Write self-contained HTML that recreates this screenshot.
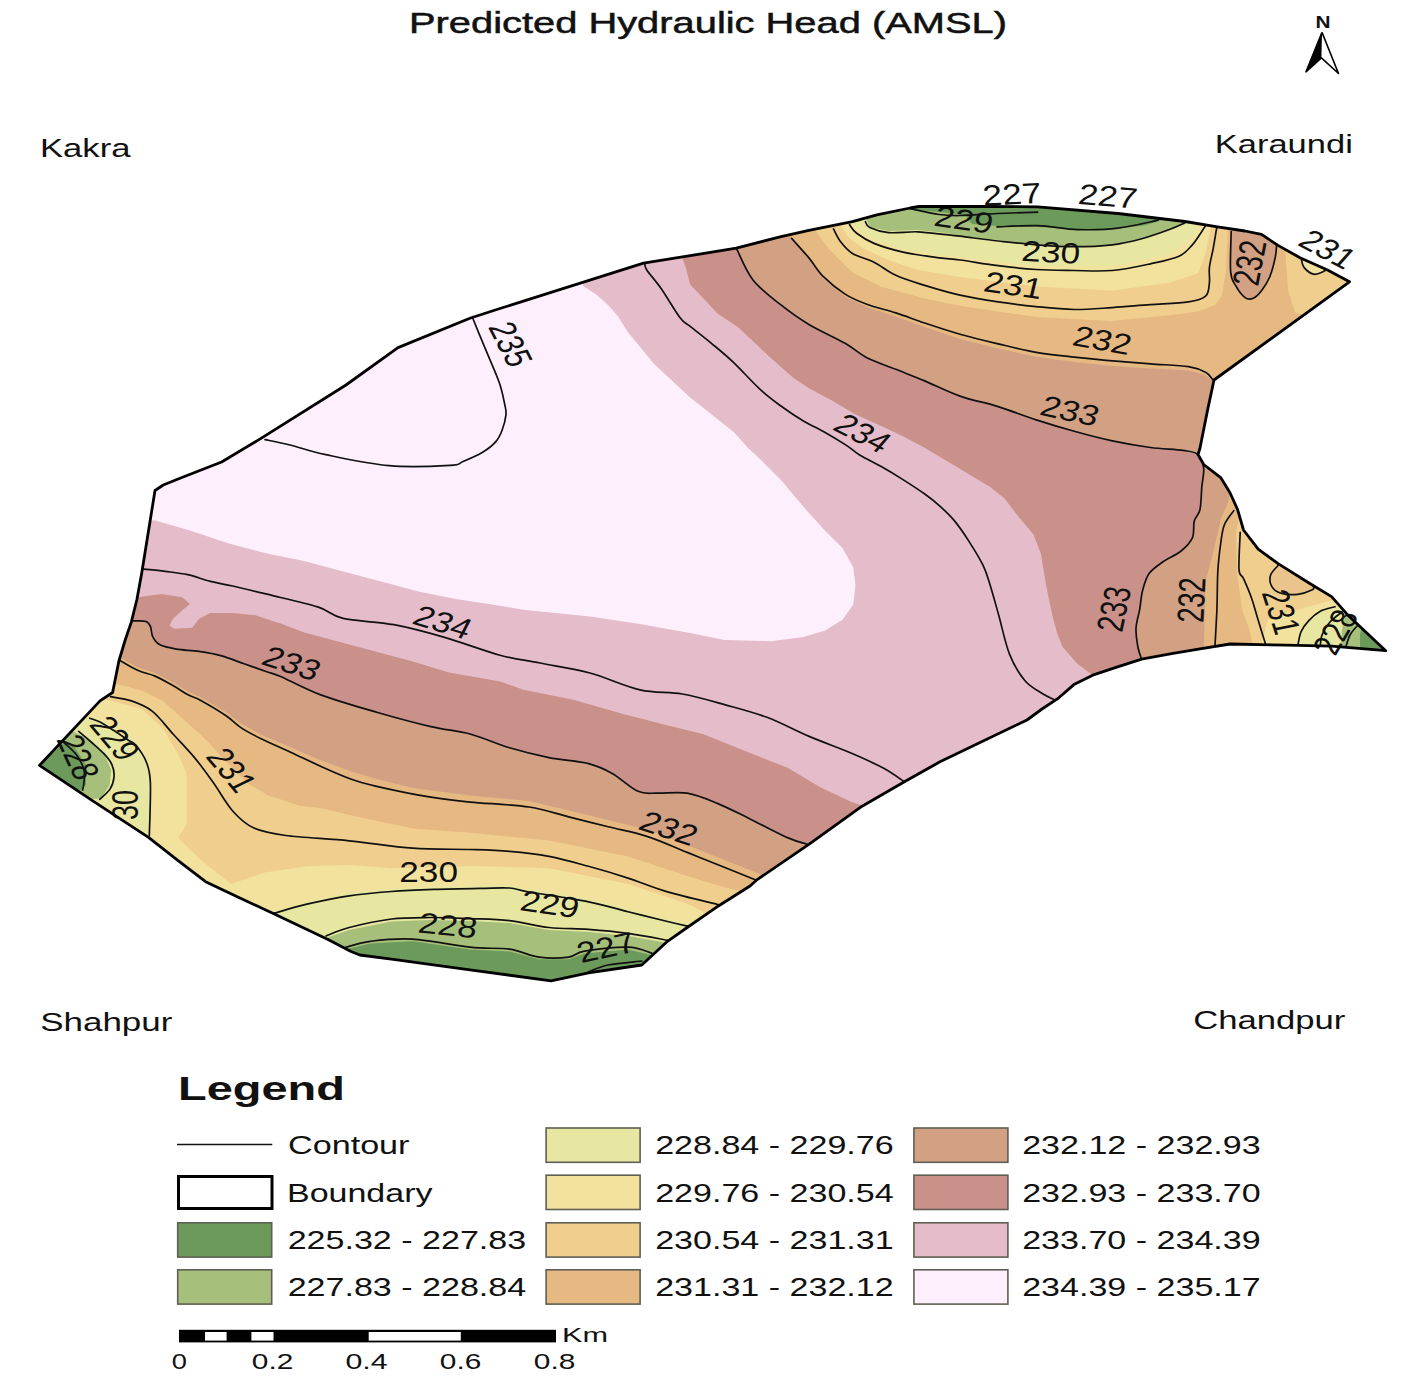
<!DOCTYPE html>
<html><head><meta charset="utf-8"><style>
html,body{margin:0;padding:0;background:#fff;}
body{width:1418px;height:1382px;overflow:hidden;}
svg{display:block;}
text{font-family:"Liberation Sans",sans-serif;}
</style></head><body>
<svg width="1418" height="1382" viewBox="0 0 1418 1382">
<defs><clipPath id="cb"><polygon points="39.5,765.4 100.0,700.9 112.6,692.5 118.9,661.0 125.2,640.0 131.3,622.1 136.9,599.5 141.7,573.3 155.0,490.5 163.3,485.0 180.6,478.0 221.6,462.0 259.0,439.6 346.0,385.0 398.0,347.6 470.5,318.0 500.0,308.5 643.5,263.2 736.3,248.2 780.0,236.9 808.9,230.4 852.4,221.7 876.8,214.8 910.2,208.0 918.9,206.5 980.0,206.5 1037.6,206.8 1118.0,213.5 1185.0,221.5 1217.5,226.8 1245.0,231.0 1261.5,234.4 1278.0,245.4 1300.0,257.7 1327.5,270.0 1349.5,281.8 1214.0,380.0 1207.5,410.4 1199.9,448.5 1198.0,454.5 1203.7,464.5 1220.7,477.6 1230.0,492.7 1237.6,509.6 1243.5,530.0 1258.2,549.2 1278.5,563.9 1309.0,583.0 1331.6,596.6 1348.5,615.8 1385.7,650.7 1331.6,646.2 1286.4,645.1 1230.0,644.0 1200.0,648.9 1171.7,653.6 1141.6,659.2 1115.3,667.7 1092.7,675.2 1073.9,684.6 1058.8,697.8 1042.0,709.0 1027.0,720.0 940.0,761.7 904.4,781.8 862.1,806.2 809.2,844.2 756.4,880.2 750.0,886.0 718.8,905.7 687.2,927.5 667.5,941.3 641.8,965.0 588.5,972.9 551.0,980.8 470.0,969.9 391.5,959.2 359.8,955.0 351.0,951.5 328.0,939.5 273.3,913.5 241.5,898.7 205.6,881.7 178.1,860.6 148.5,837.3 93.5,801.3"/></clipPath></defs>
<rect width="1418" height="1382" fill="#fff"/>
<g clip-path="url(#cb)">

<polygon points="0.0,150.0 1418.0,150.0 1418.0,1000.0 0.0,1000.0" fill="#D2A083"/>
<polygon points="736.3,248.2 753.0,280.0 780.0,304.2 808.9,324.5 845.1,343.3 866.8,357.7 895.8,369.3 924.7,380.9 960.0,396.1 998.1,406.6 1036.2,419.9 1074.2,431.3 1112.3,440.9 1150.4,447.5 1183.0,450.4 1198.0,454.5 1203.7,468.2 1201.8,487.0 1200.0,509.6 1194.3,520.9 1192.4,537.9 1181.1,551.0 1162.3,562.3 1149.1,573.6 1142.6,590.5 1139.7,609.4 1136.0,628.2 1137.9,647.0 1141.6,659.2 1160.0,700.0 1000.0,780.0 850.0,870.0 820.0,870.0 807.1,844.2 788.1,837.9 750.0,818.9 716.8,803.1 687.2,793.2 657.6,793.2 637.9,791.2 612.2,773.4 588.5,763.6 549.0,757.6 509.5,747.8 470.0,734.0 430.9,726.6 376.6,712.2 320.0,694.6 280.0,676.2 266.7,671.7 244.1,663.8 221.6,655.9 199.0,651.4 176.4,649.1 159.5,644.6 152.7,636.7 150.5,626.6 146.0,621.5 134.7,620.9 120.0,621.0 100.0,621.0 100.0,480.0 200.0,400.0 700.0,200.0 736.0,200.0" fill="#C9918A"/>
<polygon points="681.0,254.0 685.9,268.0 690.2,284.5 703.0,298.0 717.5,313.5 738.0,327.3 756.0,344.0 769.7,357.1 792.9,377.4 810.2,388.9 832.0,400.5 853.7,413.5 881.7,426.3 903.4,436.4 925.1,448.0 946.8,461.0 968.5,474.1 990.2,487.1 1004.7,498.7 1019.2,517.5 1033.7,534.8 1040.9,553.7 1045.2,580.0 1048.7,598.0 1053.2,618.8 1057.4,634.0 1062.6,647.0 1077.6,663.9 1092.7,675.2 1100.0,720.0 900.0,830.0 864.2,806.2 851.5,801.9 819.8,787.1 788.1,768.1 745.8,751.2 703.5,734.2 661.2,723.7 623.2,714.0 573.2,699.7 523.3,689.7 500.0,681.4 449.0,672.4 412.8,661.5 358.5,647.0 304.3,632.6 280.0,623.2 272.3,620.9 255.4,615.3 232.8,613.0 210.3,613.0 199.0,618.7 192.2,627.7 174.2,628.8 169.6,625.4 173.0,618.7 183.2,609.6 190.0,604.0 182.1,597.2 161.7,593.9 138.0,597.2 120.0,597.0 100.0,597.0 100.0,480.0 200.0,400.0 650.0,220.0 683.0,220.0" fill="#E5BCC9"/>
<polygon points="583.2,285.9 596.2,294.6 607.8,304.7 617.9,316.3 628.0,332.2 641.0,348.1 654.1,364.1 672.9,381.4 690.2,397.4 712.0,414.7 733.7,432.1 748.1,448.0 760.0,459.0 781.7,480.8 803.4,506.8 825.1,530.7 842.5,548.1 853.3,567.6 855.5,585.0 853.3,604.5 842.5,619.7 825.1,630.5 803.4,637.1 771.2,641.2 724.6,640.0 690.0,633.0 656.4,627.0 640.0,624.0 589.9,616.5 523.3,609.8 500.0,605.7 457.3,599.3 419.3,591.7 381.2,581.5 343.1,571.4 305.0,561.2 266.9,553.6 228.9,543.5 190.8,530.8 155.2,520.6 130.0,520.0 100.0,520.0 100.0,480.0 200.0,400.0 560.0,250.0 583.0,250.0" fill="#FDF0FC"/>
<polygon points="789.0,234.0 808.9,259.9 823.4,278.7 845.1,296.6 866.8,307.0 895.8,316.4 924.7,327.0 960.0,339.0 998.1,348.5 1036.2,356.8 1074.2,362.0 1112.3,366.0 1150.4,368.5 1188.5,370.6 1205.6,375.0 1214.0,382.0 1230.0,385.0 1400.0,270.0 1300.0,190.0 790.0,190.0" fill="#E6B882"/>
<polygon points="815.0,230.0 827.8,247.8 852.4,272.4 881.3,286.8 924.7,298.4 960.0,305.7 1036.2,317.1 1112.3,320.9 1169.4,315.2 1198.0,311.4 1215.0,305.0 1222.0,296.0 1226.0,270.0 1228.0,229.0 1228.0,190.0 815.0,190.0" fill="#F0CF8E"/>
<polygon points="1285.0,245.0 1288.0,290.0 1295.0,312.0 1310.0,318.0 1330.0,310.0 1360.0,290.0 1360.0,250.0 1300.0,240.0" fill="#F0CF8E"/>
<polygon points="1231.2,231.6 1230.6,271.5 1235.4,285.2 1245.0,297.6 1253.2,298.3 1261.5,290.7 1269.7,277.0 1275.2,257.7 1276.6,245.4 1278.0,220.0 1231.0,220.0" fill="#D2A083"/>
<polygon points="1301.4,259.0 1304.0,267.4 1313.7,274.2 1323.4,271.5 1330.0,265.0 1300.0,250.0" fill="#F2E29E"/>
<polygon points="838.0,222.0 849.0,238.0 863.0,248.0 888.0,260.0 918.0,270.0 960.0,277.1 1036.2,286.6 1112.3,290.4 1169.4,282.8 1198.0,273.3 1205.0,255.0 1211.0,226.0 1211.0,190.0 838.0,190.0" fill="#F2E29E"/>
<polygon points="852.0,222.0 858.0,230.0 874.0,240.0 903.0,249.0 939.0,255.0 960.0,257.1 1036.2,265.7 1112.3,266.6 1169.4,254.3 1194.2,235.2 1200.0,222.0 1200.0,190.0 852.0,190.0" fill="#E7E7A1"/>
<polygon points="866.0,219.0 870.0,227.0 888.5,231.0 917.5,230.0 946.4,233.0 960.0,236.0 998.1,240.0 1036.2,244.5 1074.2,246.5 1112.3,245.0 1140.9,239.0 1169.4,230.0 1186.0,222.0 1186.0,190.0 866.0,190.0" fill="#A6BF7A"/>
<polygon points="905.0,205.0 911.6,209.5 950.0,213.0 965.0,215.0 972.0,224.0 997.4,226.0 1037.6,227.0 1077.8,229.6 1118.0,228.5 1144.8,225.6 1165.0,219.0 1165.0,190.0 905.0,190.0" fill="#6B9A5B"/>
<polygon points="1230.0,490.0 1228.2,502.1 1220.7,519.0 1213.1,552.9 1205.6,581.1 1203.7,650.0 1203.7,700.0 1420.0,700.0 1420.0,480.0 1240.0,470.0" fill="#E6B882"/>
<polygon points="1241.0,505.0 1236.0,534.1 1237.0,571.7 1242.0,609.4 1249.0,628.2 1254.0,650.0 1252.6,700.0 1420.0,700.0 1420.0,480.0 1245.0,480.0" fill="#F0CF8E"/>
<polygon points="1278.5,565.0 1270.6,575.1 1271.7,586.4 1280.8,593.2 1297.7,594.3 1312.4,589.8 1313.5,586.4 1300.0,570.0" fill="#EAC48A"/>
<polygon points="1262.0,640.0 1268.0,620.0 1290.0,612.0 1318.0,604.0 1340.0,598.0 1400.0,600.0 1400.0,700.0 1262.0,700.0" fill="#F2E29E"/>
<polygon points="1297.7,650.0 1301.1,631.6 1309.0,620.3 1320.3,611.2 1335.0,606.7 1400.0,600.0 1400.0,700.0 1297.0,700.0" fill="#E7E7A1"/>
<polygon points="1340.0,650.0 1342.0,630.0 1345.0,615.0 1400.0,620.0 1400.0,700.0" fill="#A6BF7A"/>
<polygon points="1360.0,650.0 1360.0,635.0 1362.0,625.0 1400.0,640.0 1400.0,700.0" fill="#6B9A5B"/>
<polygon points="100.0,657.0 121.0,658.0 138.0,667.5 155.0,673.0 172.0,682.0 189.0,692.0 200.0,697.0 225.7,712.0 241.0,723.5 261.0,734.5 290.0,747.0 320.0,760.0 350.0,771.0 376.6,779.0 412.8,788.0 470.0,795.5 529.0,801.0 569.0,810.5 608.0,820.0 648.0,830.0 687.0,845.0 727.0,861.0 760.0,874.0 780.0,1000.0 0.0,1000.0 0.0,657.0" fill="#E6B882"/>
<polygon points="100.0,684.0 116.8,684.1 142.0,690.4 163.0,700.9 184.0,719.8 205.0,738.7 226.0,761.7 246.9,782.7 267.9,795.3 299.4,805.8 320.0,807.9 358.5,817.0 412.8,828.5 470.0,832.7 549.0,840.6 628.0,856.4 687.2,876.1 726.7,888.0 760.0,895.0 780.0,1000.0 0.0,1000.0 0.0,684.0" fill="#F0CF8E"/>
<polygon points="90.0,697.0 112.6,700.9 142.0,709.3 163.0,728.2 179.8,757.6 186.5,773.8 186.5,824.6 178.0,838.0 199.2,858.5 231.0,883.9 264.6,872.5 306.9,866.2 349.2,865.1 391.5,868.3 470.0,866.0 549.0,868.2 628.0,884.0 687.2,903.8 720.0,920.0 740.0,1000.0 0.0,1000.0 0.0,697.0" fill="#F2E29E"/>
<polygon points="84.2,717.0 97.7,718.8 113.0,727.0 135.7,742.0 146.2,759.0 149.5,780.0 149.5,840.0 60.0,840.0 30.0,770.0" fill="#E7E7A1"/>
<polygon points="260.0,918.0 275.2,911.0 306.9,901.5 349.2,893.0 391.5,888.8 433.9,886.7 480.0,885.7 509.5,885.5 529.2,889.5 588.5,899.0 628.0,909.0 667.5,919.0 689.2,924.0 720.0,940.0 700.0,1000.0 260.0,1000.0" fill="#E7E7A1"/>
<polygon points="72.3,731.0 89.2,739.4 104.5,754.6 111.2,769.9 109.6,785.1 101.1,798.6 60.0,800.0 30.0,770.0" fill="#A6BF7A"/>
<polygon points="320.0,945.0 326.0,938.0 349.2,930.0 391.5,921.5 430.0,920.0 470.0,921.0 509.5,923.0 549.0,930.0 588.5,932.0 628.0,936.0 667.5,943.0 680.0,960.0 320.0,1000.0" fill="#A6BF7A"/>
<polygon points="39.5,765.4 63.9,742.8 74.0,746.2 85.9,764.8 85.9,785.0 80.8,790.2 40.0,800.0 20.0,770.0" fill="#6B9A5B"/>
<polygon points="340.0,950.0 345.0,949.6 370.4,943.5 412.7,941.3 470.0,949.5 509.5,951.4 539.1,959.3 568.7,959.3 584.5,953.4 628.0,949.5 651.7,955.3 670.0,960.0 600.0,1000.0 340.0,1000.0" fill="#6B9A5B"/>
<g fill="none" stroke="#111" stroke-width="1.7" stroke-linejoin="round" stroke-linecap="round">
<path d="M265.0,439.6 C269.2,440.5 279.9,442.5 290.0,445.0 C300.1,447.5 309.2,451.2 325.8,454.7 C342.4,458.1 368.7,463.9 389.4,465.7 C410.1,467.5 437.7,466.1 450.0,465.4 C462.3,464.7 457.6,463.7 463.0,461.5 C468.4,459.3 477.2,455.6 482.6,452.3 C488.0,449.0 492.4,445.6 495.6,441.9 C498.9,438.2 500.4,434.8 502.1,430.2 C503.8,425.6 505.6,418.9 506.0,414.6 C506.4,410.3 505.8,409.4 504.7,404.2 C503.6,399.0 502.3,391.6 499.5,383.3 C496.7,375.1 491.3,363.1 487.8,354.7 C484.3,346.2 481.1,338.7 478.6,332.6 C476.1,326.5 473.8,320.6 472.8,318.2"/>
<path d="M644.8,263.2 C645.1,264.3 644.0,265.7 646.8,270.0 C649.5,274.3 655.8,280.8 661.3,288.8 C666.8,296.8 675.3,311.5 680.1,317.8 C684.9,324.1 684.9,322.1 690.2,326.4 C695.5,330.7 704.8,337.8 712.0,343.8 C719.2,349.8 725.8,355.1 733.7,362.6 C741.6,370.1 751.7,381.6 759.6,388.9 C767.5,396.2 774.1,401.0 781.3,406.3 C788.5,411.6 795.8,416.5 803.0,420.8 C810.2,425.1 817.5,428.2 824.7,432.3 C831.9,436.4 840.5,441.6 846.4,445.4 C852.3,449.2 854.1,451.7 860.0,455.3 C865.9,458.9 874.5,462.7 881.7,466.8 C888.9,470.9 896.2,475.3 903.4,479.9 C910.6,484.5 919.1,490.0 925.1,494.3 C931.1,498.6 934.8,501.5 939.6,505.9 C944.4,510.2 949.3,514.6 954.1,520.4 C958.9,526.2 963.7,533.1 968.5,540.6 C973.3,548.1 979.4,557.8 983.0,565.2 C986.6,572.6 987.5,576.6 990.1,585.0 C992.7,593.4 995.5,603.8 998.8,615.4 C1002.0,627.0 1005.3,643.5 1009.6,654.4 C1013.9,665.2 1019.4,674.0 1024.8,680.5 C1030.2,687.0 1037.1,690.2 1042.2,693.5 C1047.3,696.8 1053.0,698.9 1055.2,700.0"/>
<path d="M142.5,568.9 C146.3,569.3 157.6,570.3 165.1,571.3 C172.6,572.3 180.2,573.0 187.7,574.7 C195.2,576.4 202.8,579.5 210.3,581.4 C217.8,583.3 223.4,583.9 232.8,586.0 C242.2,588.1 252.7,590.7 266.9,594.2 C281.0,597.7 305.0,602.9 317.7,606.9 C330.4,610.9 330.4,615.4 343.1,618.4 C355.8,621.4 377.0,621.5 393.9,624.7 C410.8,627.9 426.9,632.3 444.6,637.4 C462.3,642.5 484.1,650.9 500.0,655.2 C515.9,659.5 525.0,660.0 540.0,663.0 C555.0,666.0 573.2,668.5 589.9,673.0 C606.6,677.5 624.6,686.3 640.0,689.8 C655.4,693.3 668.2,691.5 682.3,694.0 C696.4,696.5 710.5,700.7 724.6,704.6 C738.7,708.5 752.8,712.0 766.9,717.3 C781.0,722.6 795.1,730.4 809.2,736.4 C823.3,742.4 839.1,748.0 851.5,753.3 C863.9,758.6 874.5,763.4 883.3,768.1 C892.1,772.9 900.9,779.5 904.4,781.8"/>
<path d="M736.3,248.2 C739.1,253.5 745.7,270.7 753.0,280.0 C760.3,289.3 770.7,296.8 780.0,304.2 C789.3,311.6 798.0,318.0 808.9,324.5 C819.8,331.0 835.5,337.8 845.1,343.3 C854.8,348.8 858.3,353.4 866.8,357.7 C875.2,362.0 886.1,365.4 895.8,369.3 C905.4,373.2 914.0,376.4 924.7,380.9 C935.4,385.4 947.8,391.8 960.0,396.1 C972.2,400.4 985.4,402.6 998.1,406.6 C1010.8,410.6 1023.5,415.8 1036.2,419.9 C1048.9,424.0 1061.5,427.8 1074.2,431.3 C1086.9,434.8 1099.6,438.2 1112.3,440.9 C1125.0,443.6 1138.6,445.9 1150.4,447.5 C1162.2,449.1 1175.1,449.2 1183.0,450.4 C1190.9,451.6 1194.5,451.5 1198.0,454.5 C1201.5,457.5 1203.1,462.8 1203.7,468.2 C1204.3,473.6 1202.4,480.1 1201.8,487.0 C1201.2,493.9 1201.2,504.0 1200.0,509.6 C1198.8,515.2 1195.6,516.2 1194.3,520.9 C1193.0,525.6 1194.6,532.9 1192.4,537.9 C1190.2,542.9 1186.1,546.9 1181.1,551.0 C1176.1,555.1 1167.6,558.5 1162.3,562.3 C1157.0,566.1 1152.4,568.9 1149.1,573.6 C1145.8,578.3 1144.2,584.5 1142.6,590.5 C1141.0,596.5 1140.8,603.1 1139.7,609.4 C1138.6,615.7 1136.3,621.9 1136.0,628.2 C1135.7,634.5 1137.0,641.8 1137.9,647.0 C1138.8,652.2 1141.0,657.2 1141.6,659.2"/>
<path d="M131.0,620.9 C131.6,620.9 132.2,620.8 134.7,620.9 C137.2,621.0 143.4,620.5 146.0,621.5 C148.6,622.5 149.4,624.1 150.5,626.6 C151.6,629.1 151.2,633.7 152.7,636.7 C154.2,639.7 155.6,642.5 159.5,644.6 C163.4,646.7 169.8,648.0 176.4,649.1 C183.0,650.2 191.5,650.3 199.0,651.4 C206.5,652.5 214.1,653.8 221.6,655.9 C229.1,658.0 236.6,661.2 244.1,663.8 C251.6,666.4 260.7,669.6 266.7,671.7 C272.7,673.8 271.1,672.4 280.0,676.2 C288.9,680.0 303.9,688.6 320.0,694.6 C336.1,700.6 358.1,706.9 376.6,712.2 C395.1,717.5 415.3,723.0 430.9,726.6 C446.5,730.2 456.9,730.5 470.0,734.0 C483.1,737.5 496.3,743.9 509.5,747.8 C522.7,751.7 535.8,755.0 549.0,757.6 C562.2,760.2 578.0,761.0 588.5,763.6 C599.0,766.2 604.0,768.8 612.2,773.4 C620.4,778.0 630.3,787.9 637.9,791.2 C645.5,794.5 649.4,792.9 657.6,793.2 C665.8,793.5 677.3,791.6 687.2,793.2 C697.1,794.9 706.3,798.8 716.8,803.1 C727.3,807.4 738.1,813.1 750.0,818.9 C761.9,824.7 778.6,833.7 788.1,837.9 C797.6,842.1 803.9,843.2 807.1,844.2"/>
<path d="M791.6,238.4 C794.5,241.7 803.6,251.5 808.9,257.9 C814.2,264.3 817.4,270.7 823.4,276.7 C829.4,282.7 837.9,289.5 845.1,294.1 C852.3,298.7 858.3,301.1 866.8,304.2 C875.2,307.3 886.1,309.8 895.8,312.9 C905.4,316.0 914.0,319.4 924.7,323.0 C935.4,326.6 947.8,330.7 960.0,334.2 C972.2,337.7 985.4,340.8 998.1,343.8 C1010.8,346.8 1023.5,350.1 1036.2,352.3 C1048.9,354.5 1061.5,355.7 1074.2,357.1 C1086.9,358.5 1099.6,359.8 1112.3,360.9 C1125.0,362.0 1137.7,362.9 1150.4,363.8 C1163.1,364.8 1179.3,365.2 1188.5,366.6 C1197.7,368.0 1201.5,370.1 1205.6,372.3 C1209.7,374.5 1211.9,378.7 1213.2,380.0"/>
<path d="M1231.2,231.6 C1231.1,238.2 1229.9,262.6 1230.6,271.5 C1231.3,280.4 1233.0,280.8 1235.4,285.2 C1237.8,289.6 1242.0,295.4 1245.0,297.6 C1248.0,299.8 1250.5,299.5 1253.2,298.3 C1256.0,297.1 1258.8,294.2 1261.5,290.7 C1264.2,287.1 1267.4,282.5 1269.7,277.0 C1272.0,271.5 1274.1,263.0 1275.2,257.7 C1276.3,252.4 1276.4,247.4 1276.6,245.4"/>
<path d="M120.0,660.4 C123.0,662.1 132.3,667.9 138.2,670.5 C144.0,673.1 149.4,673.7 155.1,676.1 C160.8,678.5 166.4,681.9 172.1,685.1 C177.8,688.3 184.3,692.8 189.0,695.3 C193.7,697.8 194.3,696.9 200.4,700.3 C206.5,703.7 218.9,711.0 225.7,715.5 C232.4,720.0 235.0,723.7 240.9,727.6 C246.8,731.5 253.0,734.7 261.2,738.8 C269.4,742.9 280.2,747.5 290.0,752.0 C299.8,756.5 310.0,761.5 320.0,766.0 C330.0,770.5 340.6,775.3 350.0,778.7 C359.4,782.1 363.1,783.2 376.6,786.3 C390.1,789.4 415.3,794.6 430.9,797.2 C446.5,799.8 453.6,800.5 470.0,802.1 C486.4,803.7 512.8,804.5 529.2,807.0 C545.7,809.5 555.5,813.6 568.7,816.9 C581.9,820.2 595.0,823.5 608.2,826.8 C621.4,830.1 634.5,832.3 647.7,836.6 C660.9,840.9 674.0,847.1 687.2,852.4 C700.4,857.7 715.2,863.6 726.7,868.2 C738.2,872.8 751.5,878.2 756.4,880.2"/>
<path d="M1233.8,510.6 C1232.2,513.0 1226.6,519.2 1224.4,524.7 C1222.2,530.2 1221.8,535.7 1220.7,543.5 C1219.6,551.3 1218.4,560.7 1217.8,571.7 C1217.2,582.7 1217.4,597.0 1216.9,609.4 C1216.4,621.8 1215.3,639.9 1215.0,646.0"/>
<path d="M833.5,228.9 C834.7,231.1 837.6,237.9 840.8,242.0 C843.9,246.1 846.9,250.1 852.4,253.5 C857.9,256.9 866.8,258.6 874.0,262.2 C881.2,265.8 887.3,271.4 895.8,275.3 C904.2,279.2 914.0,282.1 924.7,285.4 C935.4,288.7 947.8,292.4 960.0,295.2 C972.2,297.9 985.4,300.0 998.1,301.9 C1010.8,303.8 1023.5,305.3 1036.2,306.6 C1048.9,307.9 1061.5,309.3 1074.2,309.5 C1086.9,309.7 1099.6,308.4 1112.3,307.6 C1125.0,306.8 1137.7,305.6 1150.4,304.7 C1163.1,303.8 1179.3,303.3 1188.5,301.9 C1197.7,300.5 1202.1,299.4 1205.6,296.2 C1209.1,293.0 1208.8,287.6 1209.4,282.8 C1210.0,278.0 1208.8,273.3 1209.4,267.6 C1210.0,261.9 1212.1,254.6 1213.2,248.6 C1214.3,242.6 1215.5,235.0 1216.1,231.4 C1216.7,227.8 1216.8,227.7 1217.0,227.0"/>
<path d="M1301.4,259.0 C1301.8,260.4 1302.0,264.9 1304.0,267.4 C1306.0,269.9 1310.5,273.5 1313.7,274.2 C1316.9,274.9 1321.2,272.5 1323.4,271.5 C1325.6,270.5 1326.4,268.6 1327.0,268.0"/>
<path d="M110.5,696.7 C114.0,697.4 124.5,698.5 131.5,700.9 C138.5,703.3 145.5,705.8 152.5,711.4 C159.5,717.0 166.5,726.8 173.5,734.5 C180.5,742.2 187.8,749.6 194.5,757.6 C201.2,765.6 207.0,773.8 213.4,782.7 C219.8,791.6 226.1,803.6 232.9,811.2 C239.7,818.8 245.2,824.1 254.0,828.1 C262.8,832.1 269.9,833.4 285.8,835.5 C301.7,837.6 328.1,838.7 349.2,840.8 C370.3,842.9 392.6,846.8 412.7,848.2 C432.8,849.7 453.9,849.0 470.0,849.5 C486.1,850.0 496.3,850.2 509.5,851.4 C522.7,852.5 535.8,853.9 549.0,856.4 C562.2,858.9 575.3,862.7 588.5,866.3 C601.7,869.9 614.8,873.8 628.0,878.1 C641.2,882.4 652.4,887.5 667.5,891.9 C682.6,896.3 710.2,902.6 718.8,904.8"/>
<path d="M1240.2,532.3 C1240.0,538.5 1238.5,561.8 1239.0,569.5 C1239.5,577.2 1241.4,573.8 1243.5,578.5 C1245.6,583.2 1249.0,590.7 1251.4,597.7 C1253.9,604.7 1255.8,612.2 1258.2,620.3 C1260.7,628.3 1264.8,641.7 1266.1,646.0"/>
<path d="M1278.5,565.0 C1277.2,566.7 1271.7,571.5 1270.6,575.1 C1269.5,578.7 1270.0,583.4 1271.7,586.4 C1273.4,589.4 1276.5,591.9 1280.8,593.2 C1285.1,594.5 1292.4,594.9 1297.7,594.3 C1303.0,593.7 1309.8,591.1 1312.4,589.8 C1315.0,588.5 1313.3,587.0 1313.5,586.4"/>
<path d="M849.5,224.6 C850.7,226.1 852.6,230.2 856.7,233.3 C860.8,236.4 866.3,240.3 874.0,243.4 C881.7,246.5 892.1,249.7 903.0,252.1 C913.9,254.5 929.7,256.6 939.2,257.9 C948.7,259.2 950.2,258.7 960.0,260.0 C969.8,261.3 985.4,264.1 998.1,265.7 C1010.8,267.3 1023.5,268.7 1036.2,269.5 C1048.9,270.3 1061.5,270.3 1074.2,270.5 C1086.9,270.7 1099.6,271.6 1112.3,270.5 C1125.0,269.4 1139.3,266.2 1150.4,263.8 C1161.5,261.4 1172.0,259.4 1179.0,256.2 C1186.0,253.0 1188.5,248.9 1192.3,244.8 C1196.1,240.7 1199.6,234.6 1201.8,231.4 C1204.0,228.2 1205.0,226.6 1205.6,225.7"/>
<path d="M1335.0,606.7 C1332.5,607.5 1324.6,608.9 1320.3,611.2 C1316.0,613.5 1312.2,616.9 1309.0,620.3 C1305.8,623.7 1303.0,627.3 1301.1,631.6 C1299.2,635.9 1298.3,643.6 1297.7,646.0"/>
<path d="M865.4,221.7 C866.1,222.7 865.9,225.7 869.7,227.5 C873.6,229.3 880.5,231.9 888.5,232.6 C896.5,233.3 907.9,231.5 917.5,231.8 C927.1,232.2 939.3,234.0 946.4,234.7 C953.5,235.4 951.4,235.1 960.0,236.2 C968.6,237.2 985.4,239.6 998.1,241.0 C1010.8,242.4 1023.5,243.9 1036.2,244.8 C1048.9,245.8 1061.5,246.7 1074.2,246.7 C1086.9,246.7 1101.2,246.1 1112.3,244.8 C1123.4,243.5 1131.4,241.6 1140.9,239.0 C1150.4,236.4 1162.1,232.2 1169.4,229.5 C1176.7,226.8 1182.2,224.0 1184.7,222.9"/>
<path d="M910.2,208.7 C915.0,209.7 930.9,213.4 939.2,214.5 C947.5,215.6 950.3,215.7 960.0,215.5 C969.7,215.3 984.5,214.1 997.4,213.5 C1010.3,212.9 1030.9,212.4 1037.6,212.2"/>
<path d="M997.0,226.9 C1003.8,226.7 1024.1,225.2 1037.6,225.6 C1051.1,226.0 1064.4,229.2 1077.8,229.6 C1091.2,230.0 1104.6,229.8 1118.0,228.2 C1131.4,226.6 1151.5,221.5 1158.2,220.2"/>
<path d="M273.3,913.5 C278.9,912.0 294.2,907.2 306.9,904.2 C319.5,901.2 335.1,897.9 349.2,895.8 C363.3,893.7 377.4,892.6 391.5,891.5 C405.6,890.4 419.1,889.9 433.9,889.4 C448.6,888.9 467.4,888.6 480.0,888.4 C492.6,888.2 501.3,887.4 509.5,888.0 C517.7,888.6 516.0,889.7 529.2,892.0 C542.4,894.3 572.0,898.5 588.5,901.8 C605.0,905.1 614.8,908.4 628.0,911.7 C641.2,915.0 657.3,919.0 667.5,921.5 C677.7,924.0 685.6,925.7 689.2,926.5"/>
<path d="M326.0,936.0 C329.9,934.6 338.3,930.3 349.2,927.5 C360.1,924.7 378.0,920.7 391.5,919.0 C405.0,917.3 416.9,917.6 430.0,917.5 C443.1,917.4 456.8,918.1 470.0,918.6 C483.2,919.1 496.3,919.1 509.5,920.6 C522.7,922.1 535.8,926.0 549.0,927.5 C562.2,929.0 575.3,928.4 588.5,929.4 C601.7,930.4 614.8,931.6 628.0,933.4 C641.2,935.2 660.9,939.1 667.5,940.3"/>
<path d="M345.0,947.6 C349.2,946.5 359.1,942.7 370.4,941.3 C381.7,939.9 396.1,938.1 412.7,939.1 C429.3,940.1 453.9,945.5 470.0,947.2 C486.1,948.9 498.0,947.6 509.5,949.2 C521.0,950.9 529.2,955.8 539.1,957.1 C549.0,958.4 561.1,958.1 568.7,957.1 C576.3,956.1 574.6,952.9 584.5,951.2 C594.4,949.6 616.8,946.9 628.0,947.2 C639.2,947.5 647.8,952.1 651.7,953.1"/>
<path d="M588.5,971.9 C591.8,970.8 599.3,966.8 608.2,965.0 C617.1,963.2 636.2,961.7 641.8,961.0"/>
<path d="M89.7,718.2 C91.4,718.8 96.1,720.0 100.0,722.0 C103.9,724.0 108.3,727.0 113.0,730.0 C117.7,733.0 124.2,737.5 128.0,740.0 C131.8,742.5 132.7,741.4 135.7,745.0 C138.7,748.6 143.8,755.4 146.2,761.7 C148.6,768.0 149.9,770.3 150.4,782.7 C150.9,795.1 149.5,827.1 149.3,836.0"/>
<path d="M78.6,731.4 C80.8,733.2 87.5,738.8 91.7,742.5 C95.9,746.2 100.5,750.0 103.9,753.7 C107.3,757.4 110.3,760.9 112.0,764.8 C113.7,768.7 114.3,773.0 114.0,777.0 C113.7,781.0 112.4,785.4 110.0,789.1 C107.6,792.8 101.5,797.6 99.8,799.3"/>
<path d="M62.0,741.0 C63.3,742.2 67.3,745.3 70.0,748.0 C72.7,750.7 75.7,753.3 78.0,757.0 C80.3,760.7 83.0,765.8 84.0,770.0 C85.0,774.2 84.2,778.6 84.0,782.0 C83.8,785.4 82.8,788.8 82.6,790.2"/>
<path d="M1320.0,650.0 C1320.3,647.5 1320.3,639.7 1322.0,635.0 C1323.7,630.3 1326.7,625.8 1330.0,622.0 C1333.3,618.2 1340.0,613.7 1342.0,612.0"/>
<path d="M1345.0,650.0 C1345.8,647.5 1347.8,639.2 1350.0,635.0 C1352.2,630.8 1356.7,626.7 1358.0,625.0"/>
</g></g>
<g fill="#111" font-size="22">
<text x="0" y="10.27" font-size="29" text-anchor="middle" transform="translate(511 344) scale(1.3 1) rotate(68.60)" textLength="45.2" lengthAdjust="spacingAndGlyphs">235</text>
<text x="0" y="10.27" font-size="29" text-anchor="middle" transform="translate(863 433) scale(1.3 1) rotate(33.52)" textLength="45.2" lengthAdjust="spacingAndGlyphs">234</text>
<text x="0" y="10.27" font-size="29" text-anchor="middle" transform="translate(443 622) scale(1.3 1) rotate(21.68)" textLength="45.2" lengthAdjust="spacingAndGlyphs">234</text>
<text x="0" y="10.27" font-size="29" text-anchor="middle" transform="translate(1070 410.5) scale(1.3 1) rotate(15.45)" textLength="45.2" lengthAdjust="spacingAndGlyphs">233</text>
<text x="0" y="10.27" font-size="29" text-anchor="middle" transform="translate(292 663) scale(1.3 1) rotate(22.90)" textLength="45.2" lengthAdjust="spacingAndGlyphs">233</text>
<text x="0" y="10.27" font-size="29" text-anchor="middle" transform="translate(1113.5 609) scale(1.3 1) rotate(-80.71)" textLength="45.2" lengthAdjust="spacingAndGlyphs">233</text>
<text x="0" y="10.27" font-size="29" text-anchor="middle" transform="translate(1102.5 340) scale(1.3 1) rotate(12.91)" textLength="45.2" lengthAdjust="spacingAndGlyphs">232</text>
<text x="0" y="10.27" font-size="29" text-anchor="middle" transform="translate(669 828) scale(1.3 1) rotate(22.90)" textLength="45.2" lengthAdjust="spacingAndGlyphs">232</text>
<text x="0" y="10.27" font-size="29" text-anchor="middle" transform="translate(1191 600) scale(1.3 1) rotate(-87.69)" textLength="45.2" lengthAdjust="spacingAndGlyphs">232</text>
<text x="0" y="10.27" font-size="29" text-anchor="middle" transform="translate(1249 263) scale(1.3 1) rotate(-81.50)" textLength="45.2" lengthAdjust="spacingAndGlyphs">232</text>
<text x="0" y="10.27" font-size="29" text-anchor="middle" transform="translate(1013.5 285) scale(1.3 1) rotate(10.35)" textLength="45.2" lengthAdjust="spacingAndGlyphs">231</text>
<text x="0" y="10.27" font-size="29" text-anchor="middle" transform="translate(232 770) scale(1.3 1) rotate(57.16)" textLength="45.2" lengthAdjust="spacingAndGlyphs">231</text>
<text x="0" y="10.27" font-size="29" text-anchor="middle" transform="translate(1328 249) scale(1.3 1) rotate(34.65)" textLength="45.2" lengthAdjust="spacingAndGlyphs">231</text>
<text x="0" y="10.27" font-size="29" text-anchor="middle" transform="translate(1281.5 612) scale(1.3 1) rotate(75.97)" textLength="45.2" lengthAdjust="spacingAndGlyphs">231</text>
<text x="0" y="10.27" font-size="29" text-anchor="middle" transform="translate(1051 252) scale(1.3 1) rotate(3.90)" textLength="45.2" lengthAdjust="spacingAndGlyphs">230</text>
<text x="0" y="10.27" font-size="29" text-anchor="middle" transform="translate(428.6 872) scale(1.3 1) rotate(0.00)" textLength="45.2" lengthAdjust="spacingAndGlyphs">230</text>
<text x="0" y="10.27" font-size="29" text-anchor="middle" transform="translate(964 219.5) scale(1.3 1) rotate(10.35)" textLength="45.2" lengthAdjust="spacingAndGlyphs">229</text>
<text x="0" y="10.27" font-size="29" text-anchor="middle" transform="translate(550 904) scale(1.3 1) rotate(10.35)" textLength="45.2" lengthAdjust="spacingAndGlyphs">229</text>
<text x="0" y="10.27" font-size="29" text-anchor="middle" transform="translate(115.5 738) scale(1.3 1) rotate(57.16)" textLength="45.2" lengthAdjust="spacingAndGlyphs">229</text>
<text x="0" y="10.27" font-size="29" text-anchor="middle" transform="translate(448 925) scale(1.3 1) rotate(7.78)" textLength="45.2" lengthAdjust="spacingAndGlyphs">228</text>
<text x="0" y="10.27" font-size="29" text-anchor="middle" transform="translate(78.5 757) scale(1.3 1) rotate(70.27)" textLength="45.2" lengthAdjust="spacingAndGlyphs">228</text>
<text x="0" y="10.27" font-size="29" text-anchor="middle" transform="translate(1335 632) scale(1.3 1) rotate(-66.05)" textLength="45.2" lengthAdjust="spacingAndGlyphs">228</text>
<text x="0" y="10.27" font-size="29" text-anchor="middle" transform="translate(1012 194) scale(1.3 1) rotate(-3.90)" textLength="45.2" lengthAdjust="spacingAndGlyphs">227</text>
<text x="0" y="10.27" font-size="29" text-anchor="middle" transform="translate(1108 196) scale(1.3 1) rotate(6.49)" textLength="45.2" lengthAdjust="spacingAndGlyphs">227</text>
<text x="0" y="10.27" font-size="29" text-anchor="middle" transform="translate(606 947) scale(1.3 1) rotate(-15.45)" textLength="45.2" lengthAdjust="spacingAndGlyphs">227</text>
<text x="0" y="10.27" font-size="29" text-anchor="middle" transform="translate(124.5 805) scale(1.3 1) rotate(-90.00)" textLength="30.1" lengthAdjust="spacingAndGlyphs">30</text>
</g>
<polygon points="39.5,765.4 100.0,700.9 112.6,692.5 118.9,661.0 125.2,640.0 131.3,622.1 136.9,599.5 141.7,573.3 155.0,490.5 163.3,485.0 180.6,478.0 221.6,462.0 259.0,439.6 346.0,385.0 398.0,347.6 470.5,318.0 500.0,308.5 643.5,263.2 736.3,248.2 780.0,236.9 808.9,230.4 852.4,221.7 876.8,214.8 910.2,208.0 918.9,206.5 980.0,206.5 1037.6,206.8 1118.0,213.5 1185.0,221.5 1217.5,226.8 1245.0,231.0 1261.5,234.4 1278.0,245.4 1300.0,257.7 1327.5,270.0 1349.5,281.8 1214.0,380.0 1207.5,410.4 1199.9,448.5 1198.0,454.5 1203.7,464.5 1220.7,477.6 1230.0,492.7 1237.6,509.6 1243.5,530.0 1258.2,549.2 1278.5,563.9 1309.0,583.0 1331.6,596.6 1348.5,615.8 1385.7,650.7 1331.6,646.2 1286.4,645.1 1230.0,644.0 1200.0,648.9 1171.7,653.6 1141.6,659.2 1115.3,667.7 1092.7,675.2 1073.9,684.6 1058.8,697.8 1042.0,709.0 1027.0,720.0 940.0,761.7 904.4,781.8 862.1,806.2 809.2,844.2 756.4,880.2 750.0,886.0 718.8,905.7 687.2,927.5 667.5,941.3 641.8,965.0 588.5,972.9 551.0,980.8 470.0,969.9 391.5,959.2 359.8,955.0 351.0,951.5 328.0,939.5 273.3,913.5 241.5,898.7 205.6,881.7 178.1,860.6 148.5,837.3 93.5,801.3" fill="none" stroke="#000" stroke-width="2.8" stroke-linejoin="round"/>
<text x="409" y="32.9" font-size="29.5" fill="#111" stroke="#111" stroke-width="0.5" textLength="598" lengthAdjust="spacingAndGlyphs">Predicted Hydraulic Head (AMSL)</text>
<text x="40" y="156.7" font-size="25.5" fill="#111" textLength="90.5" lengthAdjust="spacingAndGlyphs">Kakra</text>
<text x="1214.8" y="153" font-size="25.5" fill="#111" textLength="138" lengthAdjust="spacingAndGlyphs">Karaundi</text>
<text x="40.2" y="1030.6" font-size="25.5" fill="#111" textLength="132.2" lengthAdjust="spacingAndGlyphs">Shahpur</text>
<text x="1193.2" y="1028.6" font-size="25.5" fill="#111" textLength="152.2" lengthAdjust="spacingAndGlyphs">Chandpur</text>
<text x="1323" y="27.8" font-size="16" font-weight="bold" fill="#111" text-anchor="middle" textLength="15" lengthAdjust="spacingAndGlyphs">N</text>
<polygon points="1322,32.4 1306,71.8 1321.4,57.9" fill="#000"/>
<polyline points="1322,32.4 1338.5,73.5 1321.4,57.9 1306,71.8 1322,32.4" fill="none" stroke="#000" stroke-width="1.6" stroke-linejoin="round"/>
<text x="178" y="1100" font-size="34" font-weight="bold" fill="#111" textLength="167" lengthAdjust="spacingAndGlyphs">Legend</text>
<line x1="177" y1="1144.5" x2="272.3" y2="1144.5" stroke="#111" stroke-width="1.6"/>
<text x="288" y="1154.4" font-size="25" fill="#111" textLength="121.5" lengthAdjust="spacingAndGlyphs">Contour</text>
<rect x="178.5" y="1176.5" width="93.5" height="32" fill="#fff" stroke="#000" stroke-width="3"/>
<text x="287" y="1202" font-size="25" fill="#111" textLength="145.5" lengthAdjust="spacingAndGlyphs">Boundary</text>
<rect x="177.7" y="1222.8" width="94" height="34.3" fill="#6B9A5B" stroke="#5f5f55" stroke-width="1.6"/>
<text x="287.7" y="1249.1" font-size="25" fill="#111" textLength="238.5" lengthAdjust="spacingAndGlyphs">225.32 - 227.83</text>
<rect x="177.7" y="1269.8" width="94" height="34.3" fill="#A6BF7A" stroke="#5f5f55" stroke-width="1.6"/>
<text x="287.7" y="1296.1" font-size="25" fill="#111" textLength="238.5" lengthAdjust="spacingAndGlyphs">227.83 - 228.84</text>
<rect x="546.1" y="1128.0" width="94" height="34.3" fill="#E7E7A1" stroke="#5f5f55" stroke-width="1.6"/>
<text x="655.2" y="1154.3" font-size="25" fill="#111" textLength="238.5" lengthAdjust="spacingAndGlyphs">228.84 - 229.76</text>
<rect x="546.1" y="1175.2" width="94" height="34.3" fill="#F2E29E" stroke="#5f5f55" stroke-width="1.6"/>
<text x="655.2" y="1201.5" font-size="25" fill="#111" textLength="238.5" lengthAdjust="spacingAndGlyphs">229.76 - 230.54</text>
<rect x="546.1" y="1222.8" width="94" height="34.3" fill="#F0CF8E" stroke="#5f5f55" stroke-width="1.6"/>
<text x="655.2" y="1249.1" font-size="25" fill="#111" textLength="238.5" lengthAdjust="spacingAndGlyphs">230.54 - 231.31</text>
<rect x="546.1" y="1269.8" width="94" height="34.3" fill="#E6B882" stroke="#5f5f55" stroke-width="1.6"/>
<text x="655.2" y="1296.1" font-size="25" fill="#111" textLength="238.5" lengthAdjust="spacingAndGlyphs">231.31 - 232.12</text>
<rect x="913.9000000000001" y="1128.0" width="94" height="34.3" fill="#D2A083" stroke="#5f5f55" stroke-width="1.6"/>
<text x="1022.2" y="1154.3" font-size="25" fill="#111" textLength="238.5" lengthAdjust="spacingAndGlyphs">232.12 - 232.93</text>
<rect x="913.9000000000001" y="1175.2" width="94" height="34.3" fill="#C9918A" stroke="#5f5f55" stroke-width="1.6"/>
<text x="1022.2" y="1201.5" font-size="25" fill="#111" textLength="238.5" lengthAdjust="spacingAndGlyphs">232.93 - 233.70</text>
<rect x="913.9000000000001" y="1222.8" width="94" height="34.3" fill="#E5BCC9" stroke="#5f5f55" stroke-width="1.6"/>
<text x="1022.2" y="1249.1" font-size="25" fill="#111" textLength="238.5" lengthAdjust="spacingAndGlyphs">233.70 - 234.39</text>
<rect x="913.9000000000001" y="1269.8" width="94" height="34.3" fill="#FDF0FC" stroke="#5f5f55" stroke-width="1.6"/>
<text x="1022.2" y="1296.1" font-size="25" fill="#111" textLength="238.5" lengthAdjust="spacingAndGlyphs">234.39 - 235.17</text>
<rect x="179" y="1329.8" width="377" height="12.6" fill="#000"/>
<rect x="205" y="1332" width="21.599999999999994" height="8.6" fill="#fff"/>
<rect x="251.4" y="1332" width="22.099999999999994" height="8.6" fill="#fff"/>
<rect x="368.7" y="1332" width="92.10000000000002" height="8.6" fill="#fff"/>
<text x="562" y="1341.8" font-size="21" fill="#111" textLength="46" lengthAdjust="spacingAndGlyphs">Km</text>
<text x="171.8" y="1368.5" font-size="22" fill="#111" textLength="15.2" lengthAdjust="spacingAndGlyphs">0</text>
<text x="251.8" y="1368.5" font-size="22" fill="#111" textLength="41.5" lengthAdjust="spacingAndGlyphs">0.2</text>
<text x="345.40000000000003" y="1368.5" font-size="22" fill="#111" textLength="42.2" lengthAdjust="spacingAndGlyphs">0.4</text>
<text x="439.8" y="1368.5" font-size="22" fill="#111" textLength="41.5" lengthAdjust="spacingAndGlyphs">0.6</text>
<text x="533.8" y="1368.5" font-size="22" fill="#111" textLength="41.5" lengthAdjust="spacingAndGlyphs">0.8</text>
</svg></body></html>
